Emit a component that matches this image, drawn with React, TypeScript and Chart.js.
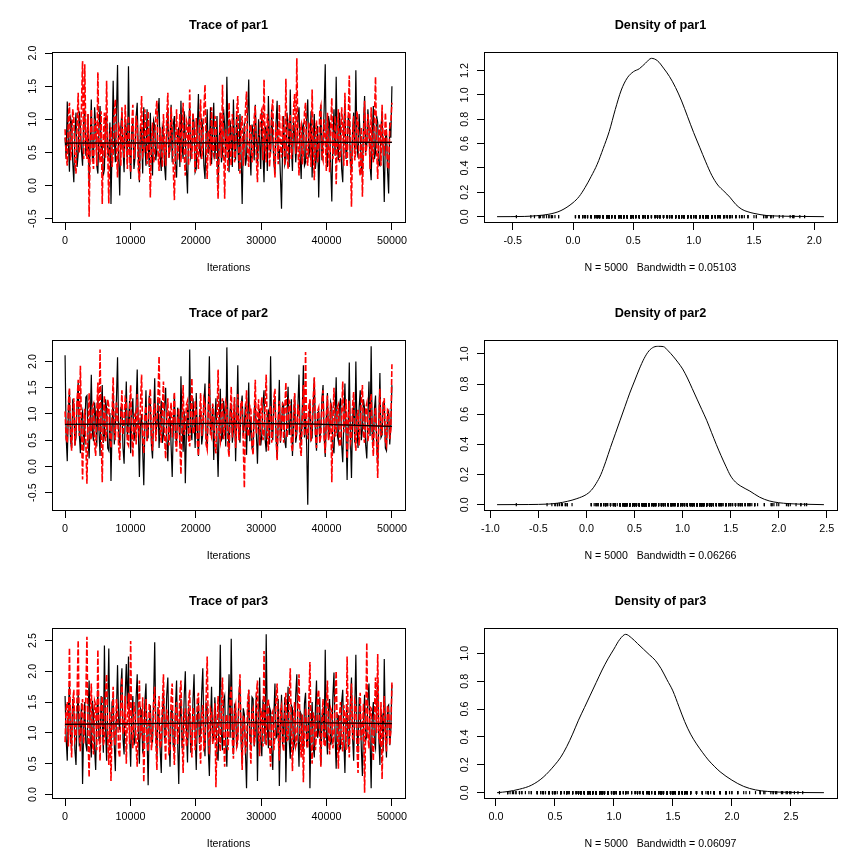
import React, { useEffect, useRef } from "react";
import { Chart, registerables } from "chart.js";
Chart.register(...registerables);

// ---------- data ----------
const N_DRAWN = 300;
const LAST_ITER = 50000;
const ITER = Array.from({ length: N_DRAWN }, (_, i) => Math.round((i * LAST_ITER) / (N_DRAWN - 1)));
const SMOOTH_ITER = [0, 12500, 25000, 37500, 50000];

const B1 = [
  0.72, 0.40, 1.27, 0.65, 0.21, 1.02, 0.95, 0.35, 0.05, 0.80, 1.10, 0.28, 0.48, 1.12, 0.88, 0.52, 0.30, 0.98, 1.15, 0.45,
  0.55, 1.08, 0.02, 0.70, 1.30, 0.38, 0.40, 1.18, 0.92, 0.30, 0.18, 0.85, 1.20, 0.58, 0.62, 0.15, 0.25, 1.02, 1.05, 0.48,
  0.45, 0.95, -0.28, 0.60, 1.58, 0.72, 0.35, 1.10, 1.82, 0.42, -0.15, 0.88, 1.12, 0.55, 0.20, 1.00, 0.85, 0.32, 1.80, 0.65,
  0.10, 0.82, 0.95, 0.25, 0.42, 1.05, 1.25, 0.48, 0.05, 0.92, 0.78, 0.18, 1.18, 0.62, 0.30, 1.15, 0.68, 0.28, 1.10, 0.50,
  0.15, 0.98, 0.90, 0.38, 0.55, 1.10, 1.32, 0.45, 0.22, 0.88, 0.80, 0.30, 0.08, 0.75, 1.15, 0.42, 0.60, 1.22, 0.35, 0.92,
  1.05, 0.32, 0.12, 0.78, 0.88, 0.28, 1.28, 0.60, 0.40, 1.12, 0.70, 0.25, -0.12, 0.85, 1.20, 0.42, 0.50, 1.08, 0.95, 0.20,
  0.25, 0.90, 1.38, 0.52, 0.45, 1.02, 0.85, 0.30, 0.10, 0.72, 1.15, 0.48, 0.58, 1.18, 0.32, 0.80, 1.25, 0.40, 0.70, 1.05,
  0.02, 0.68, 1.10, 0.35, 0.48, 1.15, 0.90, 0.42, 1.64, 0.75, 0.20, 0.98, 0.75, 0.28, 1.30, 0.58, 0.38, 1.12, 0.60, 0.22,
  1.08, 0.45, -0.28, 0.62, 0.95, 0.30, 0.42, 1.05, 1.60, 0.55, 0.15, 0.92, 0.82, 0.38, 1.22, 0.70, 0.30, 1.00, 0.68, 0.25,
  1.12, 0.50, 0.05, 0.88, 0.85, 0.22, 1.35, 0.65, 0.48, 1.15, 0.72, 0.35, 0.18, 0.95, 1.28, 0.42, 0.55, 0.15, -0.35, 0.60,
  1.05, 0.32, 0.40, 1.10, 0.90, 0.28, 1.45, 0.58, 0.22, 0.98, 0.78, 0.35, 0.62, 1.02, 1.18, 0.45, 0.10, 0.85, 0.95, 0.30,
  0.35, 1.00, 1.30, 0.42, 0.58, 1.12, 0.12, 0.75, 1.08, 0.25, 0.45, 0.90, -0.18, 0.55, 1.22, 0.38, 0.70, 1.15, 1.83, 0.48,
  0.28, 1.05, 0.92, 0.30, -0.24, 0.72, 1.15, 0.45, 1.64, 0.60, 0.38, 1.10, 0.80, 0.25, 0.05, 0.88, 1.25, 0.40, 0.55, 1.02,
  0.98, 0.35, 0.20, 0.82, 1.10, 0.48, 1.74, 0.62, 0.42, 1.08, 0.75, 0.28, 0.15, 0.92, 1.35, 0.50, 0.62, 1.15, 0.88, 0.30,
  0.08, 0.78, 1.20, 0.40, 0.50, 1.05, 0.95, 0.32, 0.30, 0.88, 1.12, 0.45, -0.25, 0.70, 0.85, 0.22, -0.12, 0.95, 0.72, 1.50,
];
const R1 = [
  0.85, 0.45, 0.30, 1.05, 1.25, 0.38, 0.55, 1.15, 1.02, 0.35, 0.18, 0.92, 1.40, 0.50, 0.62, 1.20, 1.88, 0.40, 1.83, 0.72,
  0.40, 1.08, -0.47, 0.65, 1.15, 0.48, 0.25, 0.98, 0.95, 0.30, 1.71, 0.58, 0.35, 1.12, -0.28, 0.70, 1.10, 0.42, 1.58, 0.55,
  -0.27, 0.75, 0.88, 0.28, 0.48, 1.10, 1.30, 0.52, 0.12, 0.95, 0.80, 0.30, 1.18, 0.60, 0.42, 1.22, 0.70, 0.25, 1.05, 0.48,
  0.20, 0.90, 1.22, 0.40, 0.58, 1.05, 0.92, 0.25, 0.08, 0.82, 1.35, 0.45, 0.50, 1.15, 0.75, 0.32, 1.12, 0.62, -0.18, 0.70,
  0.95, 0.35, 0.45, 1.12, 1.28, 0.50, 0.22, 0.88, 0.68, 0.28, 1.08, 0.60, 0.30, 1.02, 1.40, 0.42, 0.55, 1.18, 0.85, 0.25,
  -0.22, 0.68, 1.15, 0.38, 0.62, 1.08, 0.35, 0.85, 1.25, 0.45, 0.15, 0.98, 0.90, 0.30, 1.45, 0.55, 0.40, 1.10, 0.72, 0.20,
  1.02, 0.48, 0.25, 0.92, 1.30, 0.40, 0.58, 1.15, 1.52, 0.62, 0.10, 0.80, 0.82, 0.30, 1.18, 0.52, 0.45, 1.05, 0.95, 0.28,
  -0.20, 0.65, 1.10, 0.42, 1.52, 0.60, -0.20, 0.85, 0.70, 0.22, 1.25, 0.55, 0.30, 1.08, 0.88, 0.35, 0.52, 1.12, 1.35, 0.45,
  0.18, 0.92, 1.05, 0.30, 0.62, 1.15, 1.42, 0.50, 0.28, 0.88, 0.92, 0.35, 0.48, 1.02, 1.20, 0.40, 0.05, 0.75, 0.78, 1.10,
  1.15, 0.38, 1.60, 0.62, 0.35, 1.08, 0.98, 0.28, 0.55, 1.12, 1.30, 0.45, 0.12, 0.90, 0.85, 0.32, 1.22, 0.58, 0.42, 1.05,
  0.70, 0.30, 1.61, 0.55, 0.25, 0.98, 1.08, 0.40, 0.60, 1.15, 1.38, 0.48, 1.92, 0.62, 0.15, 0.85, 0.92, 0.32, 0.50, 1.10,
  1.25, 0.42, 0.30, 0.95, 0.82, 0.28, 1.45, 0.60, 0.08, 0.78, 0.98, 0.35, 0.55, 1.12, 1.20, 0.45, 0.38, 1.00, 0.75, 0.22,
  1.10, 0.55, 0.20, 0.88, 1.32, 0.40, 0.62, 1.05, 0.02, 0.70, 1.15, 0.35, 0.48, 1.18, 0.88, 0.30, 1.40, 0.58, 0.28, 0.95,
  1.66, 0.50, -0.32, 0.72, 1.05, 0.38, 0.52, 1.12, 0.95, 0.30, 0.15, 0.88, -0.17, 0.62, 1.28, 0.45, 0.60, 1.08, 0.85, 0.25,
  1.18, 0.48, 0.35, 1.02, 1.64, 0.55, 0.10, 0.82, 0.92, 0.30, 1.22, 0.62, 0.45, 1.10, 0.78, 0.28, 0.25, 0.88, 0.95, 1.25,
];
const B1_SMOOTH = [0.64, 0.64, 0.645, 0.65, 0.65];
const R1_SMOOTH = [0.645, 0.65, 0.65, 0.655, 0.655];

const B2 = [
  2.12, 0.55, 0.10, 1.05, 1.45, 0.48, 0.35, 1.25, 1.20, 0.40, 0.55, 1.18, 1.60, 0.62, 0.25, 0.95, 1.05, 0.30, 0.70, 1.32,
  1.35, 0.52, 0.15, 0.88, 1.75, 0.65, 0.48, 1.22, 0.95, 0.38, 1.30, 0.70, 0.20, 1.08, 1.55, 0.45, 0.60, 1.28, 1.10, 0.35,
  0.30, 1.02, -0.28, 0.72, 1.40, 0.42, 0.75, 1.30, 2.08, 0.60, 0.40, 1.12, 1.15, 0.35, 0.05, 0.92, 1.62, 0.55, 0.85, 1.25,
  0.25, 0.98, 1.30, 0.48, 0.65, 1.18, 1.85, 0.70, -0.20, 0.82, 1.00, 0.30, -0.36, 0.78, 1.45, 0.52, 0.55, 1.35, 1.20, 0.40,
  0.15, 0.95, 1.68, 0.62, 0.80, 1.28, 0.35, 0.88, 1.25, 0.45, 0.60, 1.15, 1.50, 0.55, 0.10, 0.82, 1.05, 0.38, -0.20, 0.75,
  1.38, 0.58, 0.45, 1.12, 0.95, 0.40, 1.72, 0.80, 0.28, 1.05, -0.32, 0.65, 1.15, 0.50, 2.23, 0.72, 0.50, 1.30, 0.88, 0.35,
  1.40, 0.68, 0.20, 0.95, 1.05, 0.42, 0.62, 1.22, 1.58, 0.55, 0.35, 1.10, 2.10, 0.60, 0.75, 1.18, 0.12, 0.85, 1.30, 0.48,
  -0.20, 0.82, 1.48, 0.50, 0.55, 1.25, 1.00, 0.38, 2.27, 0.75, 0.30, 1.08, 1.20, 0.45, 0.68, 1.32, 0.10, 0.90, 1.93, 0.62,
  0.45, 1.15, 1.35, 0.58, 0.80, 1.20, 0.22, 0.92, 1.60, 0.48, 0.95, 0.35, 0.38, 1.05, 1.25, 0.62, 0.05, 0.85, 1.10, 0.40,
  0.60, 1.18, 1.45, 0.52, 0.28, 0.98, 1.05, 0.42, 2.10, 0.70, 0.50, 1.25, 1.30, 0.55, 0.15, 0.88, 1.65, 0.45, 0.72, 1.20,
  1.15, 0.48, 0.35, 1.02, 1.52, 0.60, 0.85, 1.28, 0.20, 0.78, 1.38, 0.45, 0.62, 1.15, 1.75, 0.68, 0.40, 1.10, 1.93, 0.55,
  0.95, 0.40, -0.73, 0.85, 1.25, 0.50, 0.55, 1.18, 1.68, 0.62, 0.30, 1.02, 1.05, 0.45, 0.78, 1.30, 1.55, 0.58, 0.18, 0.92,
  1.40, 0.52, 0.65, 1.22, 1.12, 0.38, 0.25, 0.95, 1.70, 0.60, 0.48, 1.15, 1.30, 0.42, 0.08, 0.88, 1.58, 0.65, -0.26, 0.78,
  1.98, 0.55, -0.22, 0.90, 1.20, 0.45, 2.00, 0.72, 0.35, 1.12, 1.45, 0.50, 0.70, 1.28, 1.10, 0.40, 0.15, 0.95, 1.62, 0.58,
  2.29, 0.62, 0.40, 1.10, 1.35, 0.48, 0.05, 0.85, 1.78, 0.55, 0.60, 1.22, 1.25, 0.35, 0.30, 0.98, 1.05, 0.42, 0.78, 1.55,
];
const R2 = [
  1.05, 0.52, 0.45, 1.18, 1.50, 0.62, 0.30, 0.98, 1.30, 0.40, 0.75, 1.25, 1.65, 0.58, 1.92, 0.70, -0.25, 0.85, 1.10, 0.45,
  -0.33, 0.78, 1.40, 0.50, 0.55, 1.15, 1.20, 0.42, 0.20, 1.05, 1.60, 0.68, 2.23, 0.60, -0.30, 0.92, 1.35, 0.48, 0.65, 1.28,
  1.15, 0.55, 0.35, 1.02, 1.70, 0.65, 0.50, 1.22, 1.05, 0.38, 0.12, 0.88, 1.45, 0.60, 0.80, 1.30, 1.25, 0.45, 0.40, 1.08,
  1.55, 0.62, 0.18, 0.95, 1.00, 0.42, 1.38, 0.70, 0.60, 1.20, 1.75, 0.55, 0.25, 0.98, 1.15, 0.48, 0.70, 1.28, 1.48, 0.52,
  0.30, 1.05, 1.20, 0.48, 0.85, 1.32, 2.10, 0.68, 0.45, 1.10, 1.62, 0.58, 0.15, 0.90, 1.30, 0.40, 0.95, 1.22, 0.55, 1.00,
  1.42, 0.50, 0.28, 0.92, 1.10, 0.45, -0.15, 0.80, 1.55, 0.60, 0.72, 1.18, 1.25, 0.52, 0.38, 1.02, 1.68, 0.65, 0.62, 1.25,
  1.05, 0.48, 0.20, 0.95, 1.40, 0.58, 0.80, 1.28, 1.18, 0.42, 0.32, 1.08, 1.58, 0.62, 0.55, 1.20, 1.00, 0.38, 0.25, 0.88,
  1.85, 0.60, 0.48, 1.15, 1.30, 0.52, 0.68, 1.22, 1.12, 0.40, 0.18, 0.98, 1.52, 0.55, 0.90, 1.32, 0.35, 0.82, 1.38, 0.50,
  0.75, 1.25, 1.22, 0.45, -0.41, 0.88, 1.45, 0.58, 0.58, 1.15, 1.08, 0.40, 0.22, 0.95, 1.65, 0.62, 0.85, 1.28, 0.40, 1.05,
  1.32, 0.50, 0.62, 1.18, 1.75, 0.60, 0.30, 1.02, 1.15, 0.45, 0.70, 1.30, 1.48, 0.55, 0.12, 0.90, 1.25, 0.48, 0.88, 1.22,
  0.45, 1.10, 1.60, 0.55, 0.78, 1.25, 1.20, 0.42, 0.28, 0.98, 1.40, 0.60, 0.65, 1.18, 1.05, 0.38, 0.20, 0.92, 1.55, 0.58,
  2.18, 0.65, 0.52, 1.15, 1.28, 0.48, 0.80, 1.30, 1.70, 0.62, 0.35, 1.05, 1.12, 0.45, 0.58, 1.20, 1.45, 0.55, 0.25, 0.98,
  1.35, 0.50, 0.72, 1.22, -0.30, 0.85, 1.50, 0.58, 0.60, 1.12, 1.18, 0.42, 0.38, 1.00, 1.62, 0.65, 0.90, 1.28, 0.15, 0.88,
  1.25, 0.45, 0.55, 1.15, 1.42, 0.62, 0.30, 0.95, 1.08, 0.40, 0.78, 1.28, 1.55, 0.58, 0.45, 1.10, 1.20, 0.48, 0.65, 1.22,
  1.38, 0.55, 0.20, 0.95, 1.12, 0.45, -0.22, 0.82, 1.48, 0.60, 0.62, 1.18, 1.30, 0.48, 0.40, 1.08, 1.05, 0.52, 0.70, 1.95,
];
const B2_SMOOTH = [0.80, 0.81, 0.82, 0.81, 0.765];
const R2_SMOOTH = [0.80, 0.815, 0.825, 0.805, 0.76];

const B3 = [
  1.60, 0.90, 0.55, 1.42, 1.75, 0.85, 0.80, 1.55, 1.40, 0.72, 0.48, 1.30, 1.65, 0.78, 0.95, 1.48, 0.17, 1.05, 1.50, 0.82,
  0.70, 1.38, 1.85, 0.92, 0.60, 1.52, 1.30, 0.75, 0.40, 1.25, 1.70, 0.88, 0.85, 1.60, 1.20, 0.68, 2.42, 1.10, 0.55, 1.45,
  2.37, 0.95, 0.75, 1.50, 1.55, 0.82, 0.38, 1.35, 2.10, 1.20, 1.05, 1.75, 2.05, 0.90, 0.65, 1.62, 2.12, 1.40, 2.24, 0.98,
  0.45, 1.28, 1.60, 0.80, 0.90, 1.58, 1.95, 1.02, 0.50, 1.40, 1.35, 0.70, 0.75, 1.50, 1.80, 0.92, 0.15, 1.18, 1.45, 0.85,
  0.85, 1.55, 2.47, 1.08, 0.60, 1.42, 1.25, 0.72, 0.35, 1.30, 1.70, 0.88, 1.00, 1.62, 1.90, 0.95, 0.45, 1.35, 1.38, 0.78,
  0.70, 1.45, 1.85, 0.85, 0.17, 1.22, 1.55, 0.75, 0.92, 1.60, 2.00, 1.05, 0.52, 1.38, 1.30, 0.68, 0.80, 1.52, 1.95, 0.98,
  0.40, 1.25, 1.50, 0.82, 1.05, 1.65, 2.05, 0.95, 0.62, 1.48, 1.42, 0.72, 0.30, 1.15, 1.75, 0.90, 0.88, 1.58, 1.20, 0.65,
  0.55, 1.35, 2.43, 1.00, 0.72, 1.52, 1.60, 0.80, 0.45, 1.28, 1.95, 0.92, 2.53, 1.10, 0.65, 1.45, 1.40, 0.75, 0.95, 1.62,
  1.85, 0.88, 0.50, 1.40, 1.30, 0.70, 0.10, 1.15, 1.70, 0.95, 0.80, 1.58, 1.55, 0.78, 1.05, 1.65, 0.22, 1.20, 1.90, 0.85,
  0.62, 1.50, 1.45, 0.82, 2.60, 1.12, 0.75, 1.42, 1.35, 0.70, 0.40, 1.30, 1.80, 0.92, 0.95, 1.55, 0.14, 1.05, 1.62, 0.80,
  1.10, 1.58, 0.20, 1.15, 1.75, 0.88, 0.58, 1.45, 1.40, 0.75, 0.85, 1.62, 1.95, 1.00, 0.45, 1.35, 1.30, 0.72, 0.70, 1.48,
  1.65, 0.82, 0.90, 1.52, 0.10, 1.08, 1.50, 0.78, 0.60, 1.40, 1.85, 0.92, 1.05, 1.58, 0.48, 1.25, 1.40, 0.85, 2.35, 1.02,
  0.65, 1.42, 1.55, 0.80, 0.90, 1.60, 1.98, 0.95, 0.42, 1.30, 1.28, 0.72, 0.75, 1.50, 1.70, 0.88, 0.35, 1.22, 1.45, 0.78,
  0.82, 1.52, 1.90, 0.92, 0.55, 1.38, 2.27, 1.05, 0.68, 1.58, 1.40, 0.75, 0.30, 1.20, 1.62, 0.88, 0.95, 1.55, 1.80, 0.90,
  0.10, 1.25, 1.50, 0.85, 0.75, 1.48, 1.85, 0.92, 0.48, 1.35, 1.30, 0.70, 2.20, 1.05, 0.60, 1.42, 1.45, 0.80, 1.05, 1.78,
];
const R3 = [
  0.85, 1.40, 1.50, 0.78, 2.38, 1.05, 0.60, 1.48, 1.70, 0.88, 0.95, 1.62, 2.50, 1.00, 0.70, 1.35, 1.55, 0.82, 1.10, 1.58,
  2.56, 0.95, 0.28, 1.30, 1.80, 0.85, 0.65, 1.52, 1.45, 0.72, 2.35, 1.10, 0.55, 1.42, 1.60, 0.80, 0.90, 1.65, 1.95, 0.92,
  0.48, 1.35, 0.22, 1.18, 1.75, 0.90, 0.80, 1.55, 1.35, 0.70, 0.60, 1.45, 1.90, 0.98, 1.05, 1.60, 0.50, 1.25, 1.65, 0.82,
  2.49, 1.02, 0.75, 1.50, 1.40, 0.78, 0.45, 1.32, 1.85, 0.95, 1.00, 1.58, 0.20, 1.12, 1.55, 0.85, 0.70, 1.48, 1.30, 0.72,
  0.95, 1.52, 1.75, 0.88, 0.40, 1.28, 1.60, 0.75, 0.85, 1.45, 1.95, 1.00, 0.55, 1.38, 1.25, 0.68, 0.72, 1.55, 1.80, 0.90,
  0.48, 1.32, 1.50, 0.82, 1.05, 1.62, 1.85, 0.95, 0.35, 1.25, 1.40, 0.78, 0.90, 1.50, 1.70, 0.88, 0.60, 1.42, 1.30, 0.72,
  1.00, 1.55, 1.65, 0.85, 0.50, 1.30, 1.45, 0.75, 0.80, 1.52, 2.24, 1.05, 0.65, 1.40, 1.35, 0.82, 0.95, 1.48, 0.12, 1.00,
  1.60, 0.90, 0.70, 1.42, 1.90, 0.98, 0.45, 1.25, 1.30, 0.72, 1.05, 1.58, 1.75, 0.88, 0.58, 1.35, 1.45, 0.78, 0.85, 1.52,
  1.95, 1.02, 0.40, 1.28, 1.20, 0.70, 0.75, 1.50, 1.70, 0.92, 0.50, 1.35, 1.40, 0.80, 0.95, 1.62, 1.85, 1.00, 0.62, 1.40,
  1.25, 0.78, 2.33, 1.08, 0.80, 1.48, 1.55, 0.85, 0.45, 1.30, 1.35, 0.72, 1.00, 1.58, 1.80, 0.95, 0.55, 1.38, 1.45, 0.82,
  0.70, 1.42, 1.65, 0.88, 0.90, 1.55, 2.05, 1.00, 0.38, 1.25, 1.50, 0.78, 0.85, 1.45, 1.95, 0.92, 0.60, 1.30, 0.20, 1.05,
  1.40, 0.85, 0.75, 1.48, 2.15, 0.95, 0.50, 1.32, 1.30, 0.72, 1.00, 1.60, 1.70, 0.88, 0.45, 1.22, 1.55, 0.78, 0.80, 1.45,
  1.85, 0.98, 0.65, 1.40, 1.35, 0.75, 0.95, 1.58, 2.00, 1.02, 0.42, 1.28, 1.50, 0.82, 0.70, 1.45, 1.25, 0.72, 2.24, 1.10,
  0.60, 1.35, 1.80, 0.92, 0.90, 1.52, 1.45, 0.78, 0.35, 1.20, 1.65, 0.88, 1.05, 1.48, 0.03, 1.10, 2.46, 0.95, 0.75, 1.42,
  1.40, 0.82, 0.55, 1.30, 1.90, 1.00, 2.28, 0.92, 0.85, 1.50, 0.25, 1.18, 1.60, 0.88, 0.70, 1.45, 1.35, 0.80, 1.05, 1.82,
];
const B3_SMOOTH = [1.14, 1.15, 1.165, 1.165, 1.15];
const R3_SMOOTH = [1.145, 1.155, 1.17, 1.17, 1.155];

// density curves
const D1_X = [-0.63, -0.4, -0.3, -0.2, -0.1, 0.0, 0.05, 0.1, 0.15, 0.2, 0.25, 0.3, 0.35, 0.4, 0.45, 0.5, 0.55, 0.6, 0.65, 0.7, 0.75, 0.8, 0.85, 0.9, 0.95, 1.0, 1.05, 1.1, 1.15, 1.2, 1.25, 1.3, 1.35, 1.4, 1.45, 1.5, 1.6, 1.7, 1.8, 2.08];
const D1_Y = [0.0, 0.002, 0.008, 0.02, 0.05, 0.115, 0.165, 0.24, 0.33, 0.43, 0.56, 0.7, 0.88, 1.04, 1.14, 1.19, 1.215, 1.26, 1.3, 1.28, 1.22, 1.15, 1.06, 0.95, 0.82, 0.69, 0.57, 0.45, 0.34, 0.26, 0.21, 0.16, 0.1, 0.06, 0.04, 0.027, 0.01, 0.005, 0.003, 0.0];

const D2_X = [-0.93, -0.6, -0.4, -0.3, -0.2, -0.1, 0.0, 0.05, 0.1, 0.15, 0.2, 0.25, 0.3, 0.35, 0.4, 0.45, 0.5, 0.55, 0.6, 0.65, 0.7, 0.75, 0.8, 0.85, 0.9, 0.95, 1.0, 1.05, 1.1, 1.15, 1.2, 1.25, 1.3, 1.35, 1.4, 1.45, 1.5, 1.55, 1.6, 1.7, 1.8, 1.9, 2.0, 2.1, 2.2, 2.47];
const D2_Y = [0.0, 0.001, 0.004, 0.01, 0.022, 0.04, 0.068, 0.095, 0.14, 0.2, 0.285, 0.38, 0.47, 0.56, 0.65, 0.74, 0.82, 0.9, 0.97, 1.02, 1.045, 1.05, 1.048, 1.02, 0.985, 0.945, 0.9, 0.84, 0.77, 0.7, 0.63, 0.56, 0.48, 0.4, 0.325, 0.255, 0.19, 0.15, 0.125, 0.09, 0.05, 0.025, 0.013, 0.007, 0.004, 0.0];

const D3_X = [0.01, 0.1, 0.2, 0.3, 0.4, 0.5, 0.55, 0.6, 0.65, 0.7, 0.75, 0.8, 0.85, 0.9, 0.95, 1.0, 1.05, 1.1, 1.15, 1.2, 1.25, 1.3, 1.35, 1.4, 1.45, 1.5, 1.55, 1.6, 1.65, 1.7, 1.75, 1.8, 1.85, 1.9, 2.0, 2.1, 2.2, 2.3, 2.4, 2.78];
const D3_Y = [0.0, 0.008, 0.025, 0.053, 0.11, 0.2, 0.255, 0.33, 0.42, 0.52, 0.61, 0.7, 0.79, 0.88, 0.96, 1.03, 1.1, 1.136, 1.11, 1.07, 1.03, 0.99, 0.95, 0.89, 0.81, 0.73, 0.62, 0.51, 0.42, 0.35, 0.29, 0.235, 0.19, 0.15, 0.09, 0.045, 0.02, 0.009, 0.004, 0.0];

// tick labels
const TRACE_X_TICKS = [0, 10000, 20000, 30000, 40000, 50000];
const T1_Y_TICKS = [-0.5, 0.0, 0.5, 1.0, 1.5, 2.0];
const T2_Y_TICKS = [-0.5, 0.0, 0.5, 1.0, 1.5, 2.0];
const T3_Y_TICKS = [0.0, 0.5, 1.0, 1.5, 2.0, 2.5];
const D1_X_TICKS = [-0.5, 0.0, 0.5, 1.0, 1.5, 2.0];
const D1_Y_TICKS = [0.0, 0.2, 0.4, 0.6, 0.8, 1.0, 1.2];
const D2_X_TICKS = [-1.0, -0.5, 0.0, 0.5, 1.0, 1.5, 2.0, 2.5];
const D2_Y_TICKS = [0.0, 0.2, 0.4, 0.6, 0.8, 1.0];
const D3_X_TICKS = [0.0, 0.5, 1.0, 1.5, 2.0, 2.5];
const D3_Y_TICKS = [0.0, 0.2, 0.4, 0.6, 0.8, 1.0];

const PARAMS = ["par1", "par2", "par3"];
const N_SAMPLES = 5000;
const BANDWIDTHS = ["0.05103", "0.06266", "0.06097"];

// ---------- drawing helpers ----------
const FONT = "'Liberation Sans', Arial, Helvetica, sans-serif";
const TICK_SIZE = 10.8;
const LAB_SIZE = 10.6;
const TITLE_SIZE = 12.7;
const W = 432;
const H = 288;

function ext(lo: number, hi: number): [number, number] {
  const r = hi - lo;
  return [lo - 0.04 * r, hi + 0.04 * r];
}

function widest(labels: string[]): number {
  const c = document.createElement("canvas").getContext("2d")!;
  c.font = `${TICK_SIZE}px ${FONT}`;
  return Math.max(...labels.map((l) => c.measureText(l).width));
}

const boxPlugin = {
  id: "rbox",
  afterDraw(chart: any) {
    const { ctx, chartArea: a } = chart;
    ctx.save();
    ctx.strokeStyle = "#000";
    ctx.lineWidth = 1;
    ctx.strokeRect(a.left + 0.5, a.top + 0.5, a.right - a.left, a.bottom - a.top - 1);
    ctx.restore();
  },
};

function titlePlugin(text: string) {
  return {
    id: "rtitle",
    afterDraw(chart: any) {
      const { ctx, chartArea: a } = chart;
      ctx.save();
      ctx.fillStyle = "#000";
      ctx.font = `bold ${TITLE_SIZE}px ${FONT}`;
      ctx.textAlign = "center";
      ctx.textBaseline = "middle";
      ctx.fillText(text, (a.left + a.right) / 2, 25);
      ctx.restore();
    },
  };
}

function scales(
  xr: [number, number],
  yr: [number, number],
  xt: number[],
  yt: number[],
  xfmt: (v: number) => string,
  xlab: string
) {
  const yLabels = yt.map((v) => v.toFixed(1));
  const yPad = 12 - widest(yLabels) / 2;
  const grid = {
    display: true,
    drawOnChartArea: false,
    drawTicks: true,
    tickLength: 7,
    tickColor: "#000",
    tickWidth: 1,
    color: "#000",
  };
  return {
    x: {
      type: "linear",
      min: xr[0],
      max: xr[1],
      afterBuildTicks: (s: any) => {
        s.ticks = xt.map((v) => ({ value: v }));
      },
      afterFit: (s: any) => {
        s.height = 65;
      },
      grid,
      border: { display: false },
      ticks: {
        color: "#000",
        font: { family: FONT, size: TICK_SIZE },
        padding: 5,
        maxRotation: 0,
        minRotation: 0,
        autoSkip: false,
        callback: (v: any) => xfmt(Number(v)),
      },
      title: {
        display: true,
        text: xlab,
        color: "#000",
        font: { family: FONT, size: LAB_SIZE },
        padding: { top: 0, bottom: 20 - (LAB_SIZE * 1.2) / 2 },
      },
    },
    y: {
      type: "linear",
      min: yr[0],
      max: yr[1],
      afterBuildTicks: (s: any) => {
        s.ticks = yt.map((v) => ({ value: v }));
      },
      afterFit: (s: any) => {
        s.width = 52;
      },
      grid,
      border: { display: false },
      ticks: {
        color: "#000",
        font: { family: FONT, size: TICK_SIZE },
        padding: yPad,
        minRotation: 90,
        maxRotation: 90,
        crossAlign: "center",
        autoSkip: false,
        callback: (v: any) => Number(v).toFixed(1),
      },
    },
  };
}

const baseOptions = {
  responsive: false,
  animation: false,
  devicePixelRatio: 1,
  layout: { padding: { top: 52, right: 27, left: 0, bottom: 0 } },
  plugins: { legend: { display: false }, tooltip: { enabled: false }, title: { display: false } },
  elements: { point: { radius: 0 }, line: { tension: 0 } },
};

function traceConfig(k: number, black: number[], red: number[], bs: number[], rs: number[], yt: number[]) {
  const all = black.concat(red);
  const yr = ext(Math.min(...all), Math.max(...all));
  const xr = ext(0, LAST_ITER);
  return {
    type: "line",
    data: {
      datasets: [
        {
          data: SMOOTH_ITER.map((x, i) => ({ x, y: bs[i] })),
          borderColor: "#000",
          borderWidth: 1.2,
          pointRadius: 0,
        },
        {
          data: SMOOTH_ITER.map((x, i) => ({ x, y: rs[i] })),
          borderColor: "#b00000",
          borderWidth: 1,
          pointRadius: 0,
        },
        {
          data: ITER.map((x, i) => ({ x, y: red[i] })),
          borderColor: "#ff0000",
          borderWidth: 1.6,
          borderDash: [6, 2],
          pointRadius: 0,
        },
        {
          data: ITER.map((x, i) => ({ x, y: black[i] })),
          borderColor: "#000",
          borderWidth: 1.2,
          pointRadius: 0,
        },
      ],
    },
    options: {
      ...baseOptions,
      scales: scales(xr, yr, TRACE_X_TICKS, yt, (v) => String(v), "Iterations"),
    },
    plugins: [boxPlugin, titlePlugin(`Trace of ${PARAMS[k]}`)],
  };
}

function densityConfig(k: number, dx: number[], dy: number[], rug: number[], xt: number[], yt: number[]) {
  const xr = ext(dx[0], dx[dx.length - 1]);
  const yr = ext(0, Math.max(...dy));
  return {
    type: "line",
    data: {
      datasets: [
        {
          data: dx.map((x, i) => ({ x, y: dy[i] })),
          borderColor: "#000",
          borderWidth: 1,
          pointRadius: 0,
          cubicInterpolationMode: "monotone",
        },
        {
          data: rug.map((x) => ({ x, y: 0 })),
          showLine: false,
          pointStyle: "line",
          rotation: 90,
          pointRadius: 1.6,
          borderColor: "#000",
          borderWidth: 1.2,
        },
      ],
    },
    options: {
      ...baseOptions,
      scales: scales(xr, yr, xt, yt, (v) => v.toFixed(1), `N = ${N_SAMPLES}   Bandwidth = ${BANDWIDTHS[k]}`),
    },
    plugins: [boxPlugin, titlePlugin(`Density of ${PARAMS[k]}`)],
  };
}

function Panel({ make, left, top }: { make: () => any; left: number; top: number }) {
  const ref = useRef<HTMLCanvasElement | null>(null);
  useEffect(() => {
    const chart = new Chart(ref.current as HTMLCanvasElement, make());
    return () => chart.destroy();
  }, []);
  return (
    <canvas
      ref={ref}
      width={W}
      height={H}
      style={{ position: "absolute", left, top, width: W, height: H }}
    />
  );
}

export default function App() {
  return (
    <div style={{ position: "absolute", left: 0, top: 0, width: 864, height: 864, background: "#fff" }}>
      <Panel left={0} top={0} make={() => traceConfig(0, B1, R1, B1_SMOOTH, R1_SMOOTH, T1_Y_TICKS)} />
      <Panel left={432} top={0} make={() => densityConfig(0, D1_X, D1_Y, B1.concat(R1), D1_X_TICKS, D1_Y_TICKS)} />
      <Panel left={0} top={288} make={() => traceConfig(1, B2, R2, B2_SMOOTH, R2_SMOOTH, T2_Y_TICKS)} />
      <Panel left={432} top={288} make={() => densityConfig(1, D2_X, D2_Y, B2.concat(R2), D2_X_TICKS, D2_Y_TICKS)} />
      <Panel left={0} top={576} make={() => traceConfig(2, B3, R3, B3_SMOOTH, R3_SMOOTH, T3_Y_TICKS)} />
      <Panel left={432} top={576} make={() => densityConfig(2, D3_X, D3_Y, B3.concat(R3), D3_X_TICKS, D3_Y_TICKS)} />
    </div>
  );
}
